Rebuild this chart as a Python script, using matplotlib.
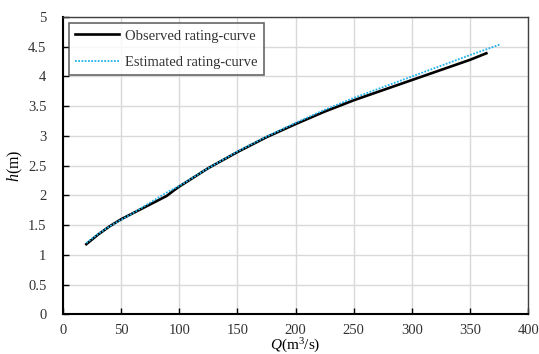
import matplotlib
matplotlib.use("Agg")
import matplotlib.pyplot as plt

# Data
obs_q = [20, 30, 40, 50, 60, 70, 80, 89, 95, 100, 125, 150, 175, 200, 225, 250, 275, 300, 325, 350, 364]
obs_h = [1.18, 1.34, 1.48, 1.60, 1.70, 1.80, 1.90, 1.99, 2.08, 2.15, 2.46, 2.73, 2.98, 3.20, 3.41, 3.60, 3.77, 3.94, 4.11, 4.28, 4.39]

est_q = [20, 30, 40, 50, 60, 70, 80, 90, 100, 125, 150, 175, 200, 225, 250, 275, 300, 325, 350, 376]
est_h = [1.20, 1.35, 1.48, 1.59, 1.70, 1.82, 1.94, 2.06, 2.16, 2.46, 2.74, 2.99, 3.22, 3.44, 3.64, 3.82, 4.00, 4.18, 4.36, 4.54]

x_ticks = [0, 50, 100, 150, 200, 250, 300, 350, 400]
y_ticks = [0, 0.5, 1, 1.5, 2, 2.5, 3, 3.5, 4, 4.5, 5]
y_labels = ["0", "0.5", "1", "1.5", "2", "2.5", "3", "3.5", "4", "4.5", "5"]

plt.rcParams['font.family'] = ['Liberation Serif', 'DejaVu Serif']
plt.rcParams['mathtext.fontset'] = 'custom'
plt.rcParams['mathtext.rm'] = 'Liberation Serif'
plt.rcParams['mathtext.it'] = 'Liberation Serif:italic'

fig = plt.figure(figsize=(5.39, 3.54), dpi=100)
ax = fig.add_axes([0.117, 0.112, 0.863, 0.840])

ax.plot(obs_q, obs_h, color='black', lw=1.9, label='Observed rating-curve', zorder=3)
ax.plot(est_q, est_h, color='#22b2ec', lw=1.3, linestyle=(0, (1, 0.8)),
        label='Estimated rating-curve', zorder=4)

ax.set_xlim(0, 400)
ax.set_ylim(0, 5)
ax.set_xticks(x_ticks)
ax.set_yticks(y_ticks)
ax.set_yticklabels(y_labels)
ax.grid(True, color='#d9d9d9', lw=1.0, zorder=0)
ax.set_axisbelow(True)

ax.tick_params(direction='in', length=4, width=1, labelsize=10.5, colors='#333333')
ax.tick_params(axis='both', color='black')
ax.tick_params(axis='x', pad=7)
ax.tick_params(axis='y', pad=12)
for side in ['left', 'bottom']:
    ax.spines[side].set_color('black')
    ax.spines[side].set_linewidth(1.5)
for side in ['right', 'top']:
    ax.spines[side].set_color('#404040')
    ax.spines[side].set_linewidth(1.0)

ax.set_xlabel('$\\it{Q}$(m$^3$/s)', fontsize=11, labelpad=0)
ax.set_ylabel('$\\it{h}$(m)', fontsize=11.5, labelpad=2)

leg = ax.legend(loc='upper left', fontsize=10.5, frameon=True, fancybox=False,
                edgecolor='#404040', borderaxespad=0.4, handlelength=3.0,
                handletextpad=0.4, borderpad=0.45, labelspacing=0.9)
leg.get_frame().set_linewidth(1.2)
for t in leg.get_texts():
    t.set_color('#333333')

fig.savefig('out.png', dpi=100, facecolor='white')
